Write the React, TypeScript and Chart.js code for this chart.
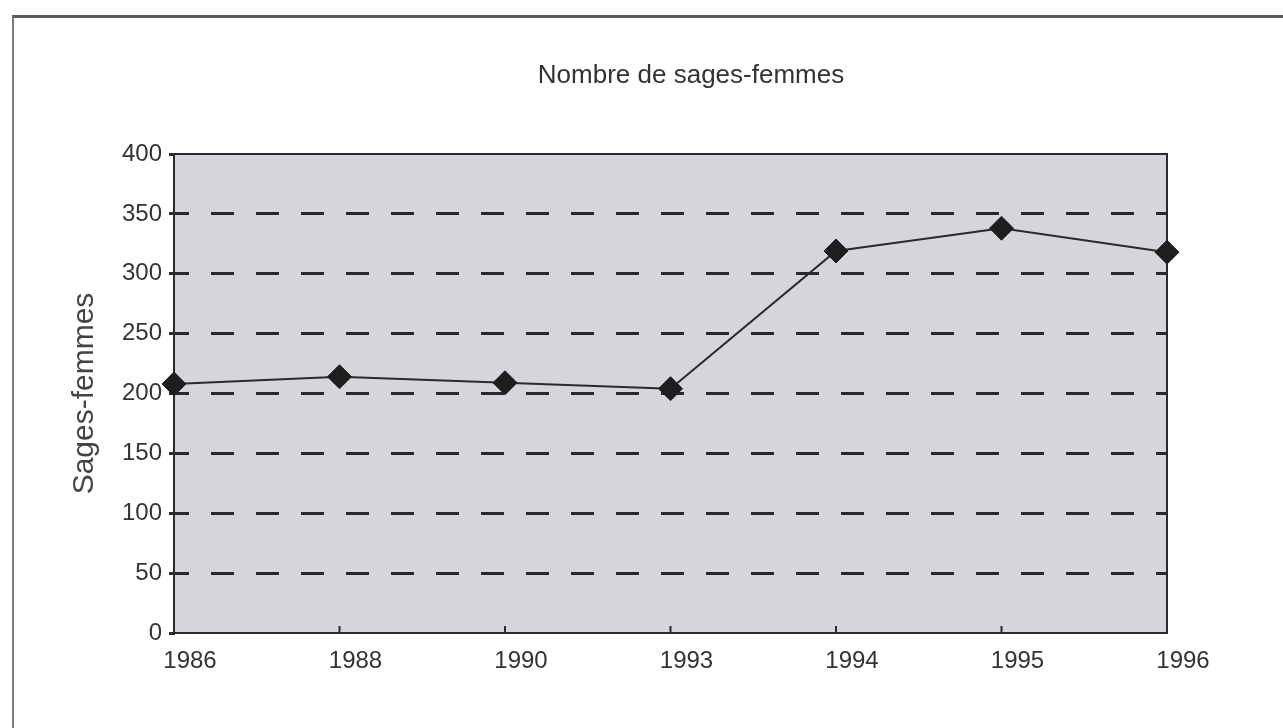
import React, { useEffect, useRef } from "react";
import { Chart, registerables } from "chart.js";

Chart.register(...registerables);

const years = ["1986", "1988", "1990", "1993", "1994", "1995", "1996"];
const midwives = [208, 214, 209, 204, 319, 338, 318];
const yTicksMin = 0;
const yTicksMax = 400;
const yStep = 50;
const chartTitle = "Nombre de sages-femmes";
const yTitle = "Sages-femmes";

const FONT = "'Liberation Sans', Arial, sans-serif";

const areaPlugin = {
  id: "areaPlugin",
  beforeDraw(chart: any) {
    const { ctx, chartArea } = chart;
    ctx.save();
    ctx.fillStyle = "#d5d5db";
    ctx.fillRect(chartArea.left, chartArea.top, chartArea.right - chartArea.left, chartArea.bottom - chartArea.top);
    ctx.restore();
  },
  beforeDatasetsDraw(chart: any) {
    const { ctx, chartArea, scales } = chart;
    ctx.save();
    ctx.strokeStyle = "#2a2a2a";
    ctx.lineWidth = 2;
    ctx.strokeRect(chartArea.left, chartArea.top, chartArea.right - chartArea.left, chartArea.bottom - chartArea.top);
    // small inward tick marks on the x axis
    const xs = scales.x;
    ctx.beginPath();
    for (let i = 0; i < xs.ticks.length; i++) {
      const px = xs.getPixelForTick(i);
      ctx.moveTo(px, chartArea.bottom);
      ctx.lineTo(px, chartArea.bottom - 7);
    }
    ctx.stroke();
    ctx.restore();
  },
};

export default function App() {
  const ref = useRef<HTMLCanvasElement>(null);

  useEffect(() => {
    if (!ref.current) return;
    const chart = new Chart(ref.current, {
      type: "line",
      data: {
        labels: years,
        datasets: [
          {
            label: yTitle,
            data: midwives,
            borderColor: "#2a2a2a",
            borderWidth: 2,
            tension: 0,
            pointStyle: "rectRot",
            pointRadius: 12,
            pointBackgroundColor: "#1e1e1e",
            pointBorderColor: "#1e1e1e",
            pointBorderWidth: 1,
            clip: false as any,
          },
        ],
      },
      options: {
        responsive: false,
        animation: false,
        layout: { padding: { top: 154, right: 116, bottom: 0, left: 0 } },
        plugins: {
          legend: { display: false },
          title: { display: false },
          tooltip: { enabled: false },
        },
        scales: {
          x: {
            type: "category",
            offset: false,
            grid: { display: false, drawTicks: false },
            border: { display: true, color: "#2a2a2a", width: 2 },
            ticks: {
              color: "#333",
              font: { family: FONT, size: 24 },
              padding: 14,
              labelOffset: 16,
              maxRotation: 0,
              autoSkip: false,
            },
            afterFit: (s: any) => {
              s.height = 95;
            },
          },
          y: {
            min: yTicksMin,
            max: yTicksMax,
            grid: {
              color: (c: any) =>
                c.tick && (c.tick.value === yTicksMax || c.tick.value === yTicksMin) ? "rgba(0,0,0,0)" : "#2a2a2a",
              lineWidth: 3,
              tickLength: 5,
              tickColor: "#2a2a2a",
              tickWidth: 3,
            },
            border: { display: true, color: "#2a2a2a", width: 2, dash: [23, 22], dashOffset: 9 },
            ticks: {
              stepSize: yStep,
              color: "#333",
              font: { family: FONT, size: 24 },
              padding: 7,
            },
            title: {
              display: true,
              text: yTitle,
              color: "#444",
              font: { family: FONT, size: 30 },
              padding: { top: 67, bottom: 0 },
            },
            afterFit: (s: any) => {
              s.width = 174;
            },
          },
        },
      },
      plugins: [areaPlugin],
    });
    return () => chart.destroy();
  }, []);

  return (
    <div style={{ position: "absolute", left: 0, top: 0, width: 1283, height: 728, background: "#fff", overflow: "hidden" }}>
      <div
        style={{
          position: "absolute",
          left: 12,
          top: 15,
          width: 1283,
          height: 728,
          borderTop: "3px solid #5a5a5a",
          borderLeft: "2px solid #7a7a7a",
        }}
      />
      <canvas ref={ref} width={1283} height={728} style={{ position: "absolute", left: 0, top: 0 }} />
      <div
        style={{
          position: "absolute",
          left: 0,
          width: 1382,
          top: 58,
          textAlign: "center",
          fontFamily: FONT,
          fontSize: 26,
          color: "#333",
          lineHeight: "32px",
          pointerEvents: "none",
        }}
      >
        {chartTitle}
      </div>
    </div>
  );
}
